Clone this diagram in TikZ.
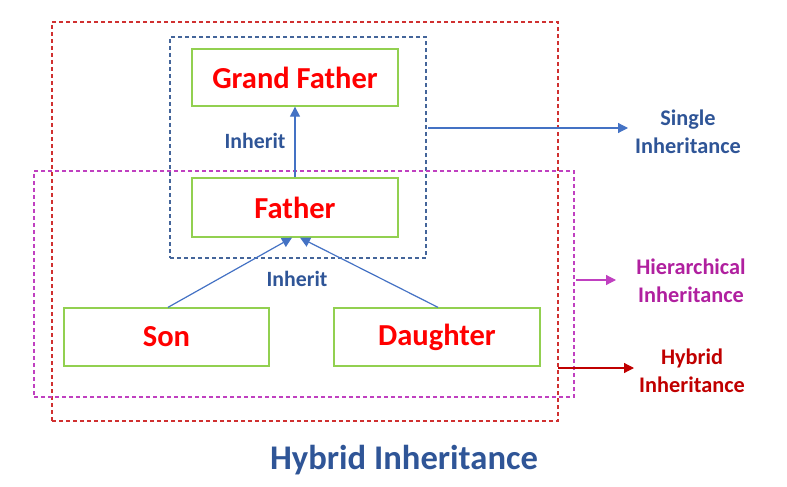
\documentclass[tikz,border=0pt]{standalone}
\usepackage{fontspec}
\setmainfont{Carlito}
\usetikzlibrary{arrows.meta}
\definecolor{gbox}{HTML}{92D050}
\definecolor{rtext}{HTML}{FF0000}
\definecolor{bdash}{HTML}{44659A}
\definecolor{barrow}{HTML}{4472C4}
\definecolor{btext}{HTML}{2F5597}
\definecolor{mdash}{HTML}{C040C0}
\definecolor{mtext}{HTML}{B0209F}
\definecolor{rdash}{HTML}{D03030}
\definecolor{hytext}{HTML}{C00000}
\tikzset{
  classbox/.style={draw=gbox, line width=1.3pt, text=rtext, font=\fontsize{30.5}{33}\selectfont\bfseries, inner sep=0pt},
  group/.style={line width=1.2pt, dash pattern=on 4pt off 3pt, inner sep=0pt},
  inh/.style={text=btext, font=\fontsize{21.8}{24}\selectfont\bfseries},
  lbl/.style={font=\fontsize{22.3}{28.5}\selectfont\bfseries, align=center},
  tip/.style={-{Triangle[length=10pt,width=10pt]}},
  conn/.style={barrow, line width=1.2pt, tip},
}
\begin{document}
\begin{tikzpicture}[x=1pt,y=-1pt]
\useasboundingbox (0,0) rectangle (787,487);
% groups
\node[group, draw=rdash, minimum width=506pt, minimum height=399pt] (hybrid) at (305,221.5) {};
\node[group, draw=bdash, minimum width=256pt, minimum height=221pt] (single) at (298,147.5) {};
\node[group, draw=mdash, minimum width=540pt, minimum height=226pt] (hier) at (304,284) {};
% classes
\node[classbox, minimum width=206pt, minimum height=57pt] (gf) at (295,77.5) {Grand Father};
\node[classbox, minimum width=206pt, minimum height=59pt] (father) at (295,207.5) {Father};
\node[classbox, minimum width=205pt, minimum height=58pt] (son) at (166.5,337) {Son};
\node[classbox, minimum width=206pt, minimum height=58pt] (dau) at (437,337) {Daughter};
% inheritance arrows
\draw[conn] (father.north) -- (gf.south);
\draw[conn] ([xshift=1.5pt]son.north) -- ([xshift=-3pt]father.south);
\draw[conn] ([xshift=1pt]dau.north) -- ([xshift=5pt]father.south);
\node[inh] (inh1) at (255,141) {Inherit};
\node[inh] (inh2) at (297,279) {Inherit};
% labels
\node[lbl, text=btext] (lsingle) at (688,132) {Single\\Inheritance};
\node[lbl, text=mtext] (lhier) at (691,281) {Hierarchical\\Inheritance};
\node[lbl, text=hytext] (lhyb) at (692,371) {Hybrid\\Inheritance};
\coordinate (s1) at (428,128);
\coordinate (s2) at (628,128);
\coordinate (h1) at (576,280);
\coordinate (h2) at (616,280);
\coordinate (y1) at (558,368);
\coordinate (y2) at (634,368);
\draw[barrow, line width=1.2pt, tip] (s1) -- (s2);
\draw[mdash, line width=1.2pt, tip] (h1) -- (h2);
\draw[hytext, line width=1.2pt, tip] (y1) -- (y2);
\node[text=btext, font=\fontsize{34.6}{38}\selectfont\bfseries] (title) at (404,460) {Hybrid Inheritance};
\end{tikzpicture}
\end{document}
